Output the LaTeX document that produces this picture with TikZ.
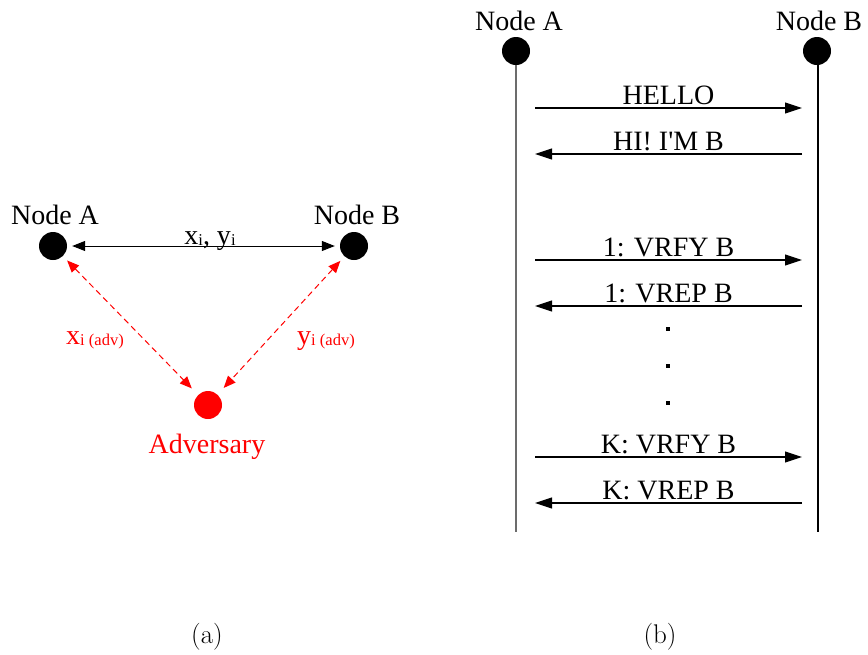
\documentclass[tikz,border=0pt]{standalone}
\usepackage{fontspec}
\usetikzlibrary{arrows.meta}
\newfontfamily\tnr{Liberation Serif}
\newcommand{\lbl}{\tnr\fontsize{28}{31}\selectfont}
\newcommand{\sublbl}[1]{\raisebox{-1.5pt}{\fontsize{16.5}{18}\selectfont #1}}
\begin{document}
\begin{tikzpicture}[x=1pt,y=-1pt,
  dot/.style={circle,fill=black,inner sep=0pt,minimum size=28pt},
  advdot/.style={circle,fill=red,inner sep=0pt,minimum size=28pt},
  txt/.style={inner sep=0pt,anchor=base,font=\lbl},
  msg/.style={line width=1.1pt,-{Triangle[length=17pt,width=11pt]}},
  link/.style={line width=1pt,{Triangle[length=13pt,width=10pt]}-{Triangle[length=13pt,width=10pt]}},
  advlink/.style={red,line width=1pt,dashed,dash pattern=on 6pt off 4pt,
    {Triangle[length=12pt,width=10pt]}-{Triangle[length=12pt,width=10pt]}},
  life/.style={line width=1.3pt},
  ell/.style={rectangle,fill=black,inner sep=0pt,minimum size=3.5pt},
  captext/.style={inner sep=0pt,anchor=base,font=\fontsize{27}{32}\selectfont}]
\useasboundingbox (0,0) rectangle (868,654);

% ---- (a) three parties ----
\node[dot] (A) at (53,246) {};
\node[dot] (B) at (354,246) {};
\node[advdot] (Adv) at (208,405) {};
\node[txt] (Alab) at (55,224) {Node A};
\node[txt] (Blab) at (357,224) {Node B};
\node[txt,red] (Advlab) at (207,453) {Adversary};

\draw[link,shorten <=5pt,shorten >=5pt] (A) -- (B);
\node[txt] (xy) at (210,244) {x\sublbl{i}, y\sublbl{i}};

\draw[advlink,shorten <=6pt,shorten >=9pt] (A) -- (Adv);
\draw[advlink,shorten <=6pt,shorten >=9pt] (B) -- (Adv);
\node[txt,red] (xadv) at (95,344) {x\sublbl{i (adv)}};
\node[txt,red] (yadv) at (326,344) {y\sublbl{i (adv)}};

\node[captext] (capa) at (207,643) {(a)};

% ---- (b) message sequence ----
\node[dot] (SA) at (516,51) {};
\node[dot] (SB) at (817,51) {};
\node[txt] (SAlab) at (519,30) {Node A};
\node[txt] (SBlab) at (819,30) {Node B};
\coordinate (SAend) at (516,532);
\coordinate (SBend) at (818,532);
\draw[life,gray!85!black] (SA) -- (SAend);
\draw[life] (SB.south -| SBend) -- (SBend);

\coordinate (m1a) at (535,108); \coordinate (m1b) at (802,108);
\coordinate (m2a) at (535,154); \coordinate (m2b) at (802,154);
\coordinate (m3a) at (535,260); \coordinate (m3b) at (802,260);
\coordinate (m4a) at (535,306); \coordinate (m4b) at (802,306);
\coordinate (m5a) at (535,457); \coordinate (m5b) at (802,457);
\coordinate (m6a) at (535,503); \coordinate (m6b) at (802,503);

\draw[msg] (m1a) -- node[txt,yshift=4pt] {HELLO} (m1b);
\draw[msg] (m2b) -- node[txt,yshift=4pt] {HI! I'M B} (m2a);
\draw[msg] (m3a) -- node[txt,yshift=4pt] {1: VRFY B} (m3b);
\draw[msg] (m4b) -- node[txt,yshift=4pt] {1: VREP B} (m4a);
\draw[msg] (m5a) -- node[txt,yshift=4pt] {K: VRFY B} (m5b);
\draw[msg] (m6b) -- node[txt,yshift=4pt] {K: VREP B} (m6a);

\node[ell] (d1) at (668,329) {};
\node[ell] (d2) at (668,366) {};
\node[ell] (d3) at (668,403) {};

\node[captext] (capb) at (660,643) {(b)};
\end{tikzpicture}
\end{document}
